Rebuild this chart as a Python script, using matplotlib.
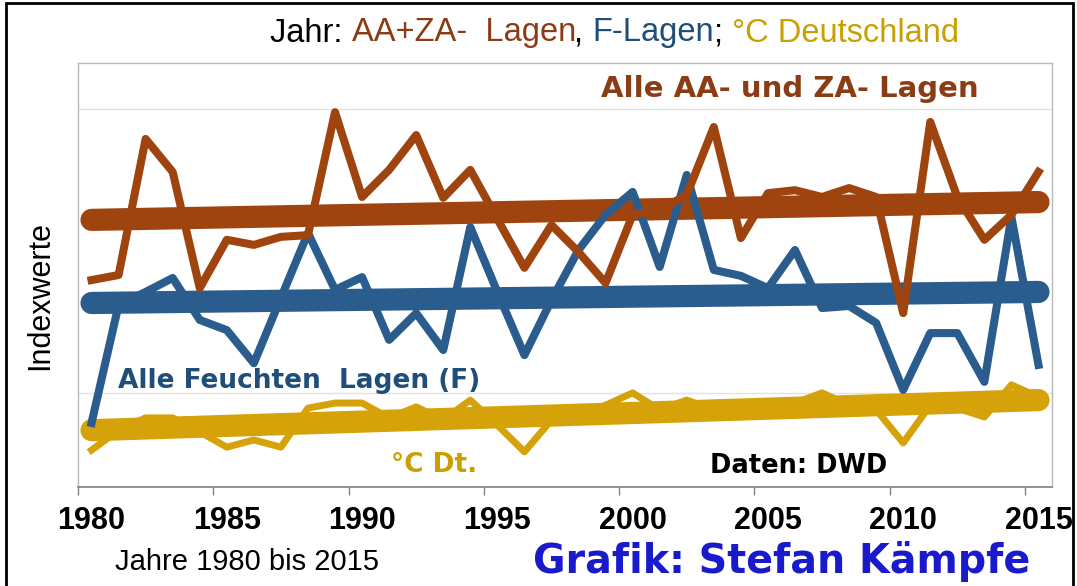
import matplotlib
matplotlib.use("Agg")
import matplotlib.pyplot as plt
from matplotlib.patches import Rectangle

plt.rcParams['font.family'] = ['Liberation Sans', 'DejaVu Sans']

# ---------------- data (index values, arbitrary scale 0..100) ----------------
years = list(range(1980, 2016))
aa_za = [48.8, 50.0, 82.1, 74.3, 46.9, 58.3, 57.1, 59.0, 59.4, 88.4,
         68.4, 74.8, 83.0, 68.2, 74.8, 63.2, 51.7, 61.8, 55.4, 48.1,
         64.2, 65.3, 68.9, 84.9, 58.7, 69.3, 70.0, 68.4, 70.5, 68.4,
         41.0, 86.1, 68.4, 58.3, 64.2, 74.3]
feucht = [15.1, 42.9, 46.0, 49.3, 39.4, 37.0, 29.2, 44.6, 59.9, 46.5,
          49.5, 34.7, 41.0, 32.3, 61.3, 46.0, 31.1, 44.1, 55.9, 64.2,
          69.6, 51.9, 73.6, 51.2, 49.8, 46.9, 55.9, 42.2, 42.7, 38.7,
          22.9, 36.3, 36.3, 24.8, 63.7, 28.8]
temp = [8.7, 13.4, 16.3, 16.3, 13.0, 9.4, 11.1, 9.4, 18.6, 19.8,
        19.8, 16.3, 18.9, 15.8, 20.5, 14.6, 8.3, 15.8, 17.0, 19.3,
        22.2, 18.2, 20.5, 18.2, 18.6, 19.3, 19.8, 22.2, 19.3, 18.2,
        10.4, 19.3, 18.6, 16.5, 24.1, 21.2]
trend_years = [1980, 2015]
aa_za_trend = [63.0, 67.2]
feucht_trend = [43.4, 46.0]
temp_trend = [13.4, 20.5]
tick_years = [1980, 1985, 1990, 1995, 2000, 2005, 2010, 2015]
grid_levels = [22.2, 89.2]

# ---------------- styling ----------------
W, H = 1077, 586
brown = '#A0440F'
blue = '#2A5C8D'
gold = '#D6A20A'
brown_t = '#8C3C14'
blue_t = '#1F4E79'
gold_t = '#C9A000'

def fx(x):
    return x / W

def fy(y):
    return 1 - y / H

fig = plt.figure(figsize=(W / 100, H / 100), dpi=100)
fig.patch.set_facecolor('white')

ax = fig.add_axes([fx(78), fy(487), (1052 - 78) / W, (487 - 63) / H])
ax.set_xlim(1979.5, 2015.5)
ax.set_ylim(0, 100)

for g in grid_levels:
    ax.axhline(g, color='#E2E2E2', lw=1.0, zorder=0)

ax.plot(trend_years, aa_za_trend, color=brown, lw=16, solid_capstyle='round', zorder=2)
ax.plot(trend_years, feucht_trend, color=blue, lw=16, solid_capstyle='round', zorder=2)
ax.plot(trend_years, temp_trend, color=gold, lw=16, solid_capstyle='round', zorder=2)

ax.plot(years, temp, color=gold, lw=5, zorder=3)
ax.plot(years, feucht, color=blue, lw=5.8, zorder=4)
ax.plot(years, aa_za, color=brown, lw=5.8, zorder=5)

# x axis: tick marks between categories, labels at category centres
ax.set_xticks([y - 0.5 for y in tick_years])
ax.set_xticklabels([])
ax.set_xticks(tick_years, minor=True)
ax.set_xticklabels([str(y) for y in tick_years], minor=True, fontweight='bold')
ax.tick_params(axis='x', which='major', direction='out', length=6, width=1, color='#808080')
ax.tick_params(axis='x', which='minor', length=0, pad=14, labelsize=22)
ax.set_yticks([])

for s in ['left', 'top', 'right']:
    ax.spines[s].set_color('#B8B8B8')
    ax.spines[s].set_linewidth(1.0)
ax.spines['bottom'].set_color('#808080')
ax.spines['bottom'].set_linewidth(1.2)

# ---------------- texts ----------------
bold_font = ['DejaVu Sans']
fig.text(fx(790), fy(89), "Alle AA- und ZA- Lagen", ha='center', va='center',
         fontsize=21, fontweight='bold', color=brown_t, family=bold_font)
fig.text(fx(118), fy(381), "Alle Feuchten  Lagen (F)", ha='left', va='center',
         fontsize=19, fontweight='bold', color=blue_t, family=bold_font)
fig.text(fx(434), fy(465), "°C Dt.", ha='center', va='center',
         fontsize=19, fontweight='bold', color=gold_t, family=bold_font)
fig.text(fx(799), fy(466), "Daten: DWD", ha='center', va='center',
         fontsize=18.5, fontweight='bold', color='black', family=bold_font)
fig.text(fx(40), fy(295), "Indexwerte", ha='center', va='center', rotation=90,
         fontsize=22, color='black')
fig.text(fx(247), fy(562), "Jahre 1980 bis 2015", ha='center', va='center',
         fontsize=21, color='black')
fig.text(fx(782), fy(562), "Grafik: Stefan Kämpfe", ha='center', va='center',
         fontsize=28.5, fontweight='bold', color='#1A1ACD', family=bold_font)

# multi-coloured title
pieces = [("Jahr: ", 'black'), ("AA+ZA-  Lagen", brown_t), (", ", 'black'),
          ("F-Lagen", blue_t), ("; ", 'black'), ("°C Deutschland", gold_t)]
renderer = fig.canvas.get_renderer()
tsize = 23.5

def width_of(s):
    t = fig.text(0, 0, s, fontsize=tsize)
    w = t.get_window_extent(renderer).width
    t.remove()
    return w

bar_w = width_of("|")
x0 = 270
prefix = ""
for s, c in pieces:
    off = width_of(prefix + "|") - bar_w if prefix else 0
    fig.text(fx(x0 + off), fy(33), s, ha='left', va='center', fontsize=tsize, color=c)
    prefix += s

# outer frame
fig.patches.append(Rectangle((fx(6), fy(590)), fx(1073) - fx(6), fy(3) - fy(590),
                             transform=fig.transFigure, fill=False, edgecolor='black',
                             lw=2.0, zorder=10))

fig.savefig("out.png", dpi=100, facecolor='white')
